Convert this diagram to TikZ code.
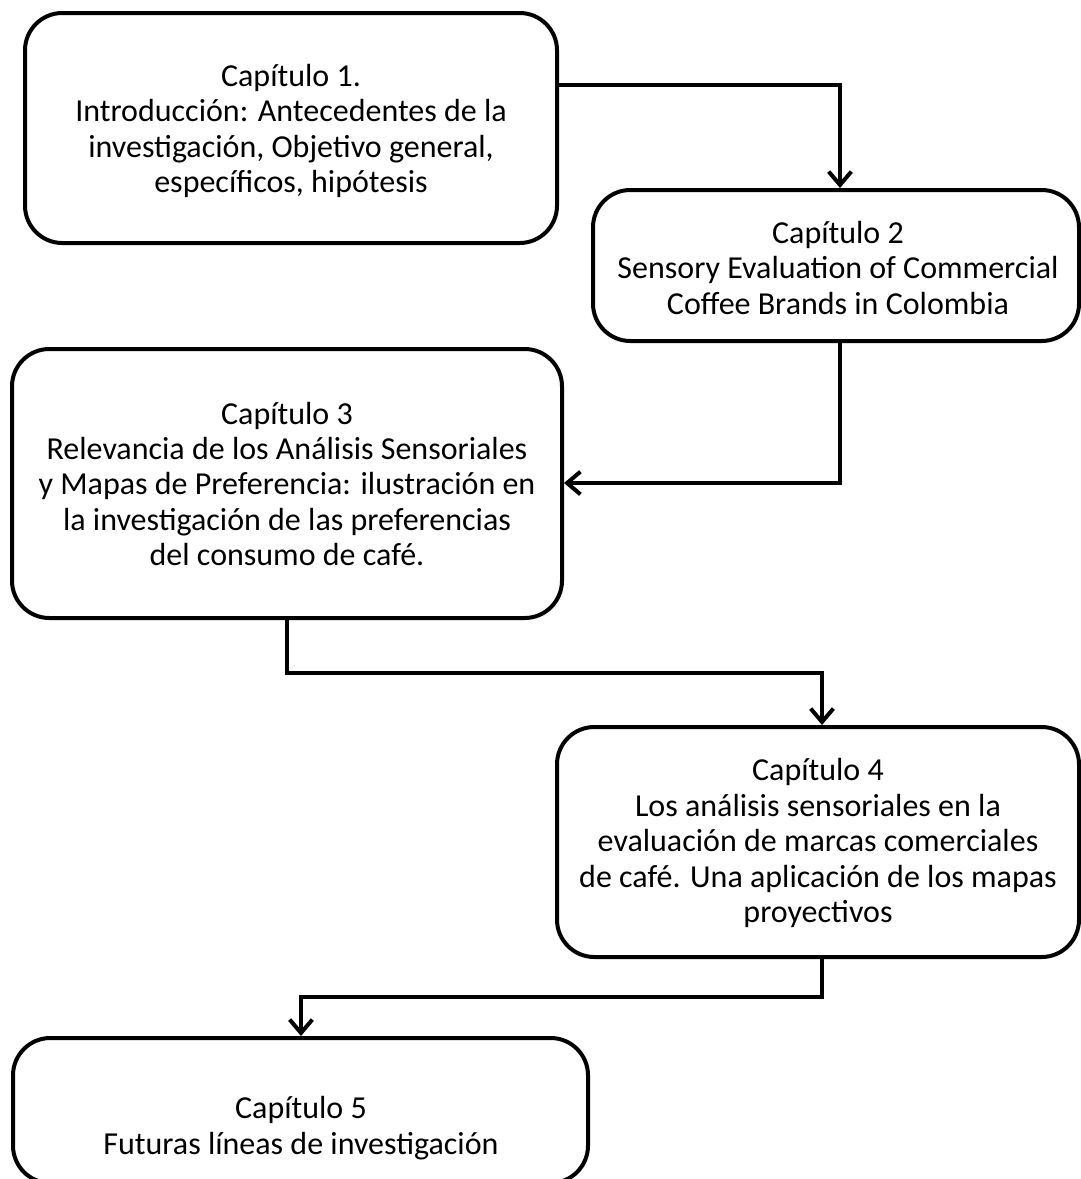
\documentclass[tikz,border=0pt]{standalone}
\usepackage{fontspec}
\setmainfont{Carlito}
\usetikzlibrary{fit,arrows.meta}
\begin{document}
\begin{tikzpicture}[x=0.75pt,y=-0.75pt,
  box/.style={draw=black,line width=3pt,rounded corners=28pt,inner sep=0pt},
  txt/.style={align=center,font=\fontsize{24}{26.6}\selectfont,inner sep=0pt},
  flow/.style={draw=black,line width=3pt,-{Straight Barb[length=10pt,width=17pt,line width=3pt]}}]
\useasboundingbox (0,0) rectangle (1081,1179);
% chapter boxes
\node[box,fit={(25,13) (557,243)}] (b1) {};
\node[box,fit={(593,190) (1079,341)}] (b2) {};
\node[box,fit={(12,349) (562,618)}] (b3) {};
\node[box,fit={(557,727) (1079,957)}] (b4) {};
\node[box,fit={(13,1038) (588,1183)}] (b5) {};
% texts
\node[txt] (t1) at (291,131) {Capítulo 1.\\Introducción: Antecedentes de la\\investigación, Objetivo general,\\específicos, hipótesis};
\node[txt] (t2) at (838,268) {Capítulo 2\\Sensory Evaluation of Commercial\\Coffee Brands in Colombia};
\node[txt] (t3) at (287,484) {Capítulo 3\\Relevancia de los Análisis Sensoriales\\y Mapas de Preferencia: ilustración en\\la investigación de las preferencias\\del consumo de café.};
\node[txt] (t4) at (818,843) {Capítulo 4\\Los análisis sensoriales en la\\evaluación de marcas comerciales\\de café. Una aplicación de los mapas\\proyectivos};
\node[txt] (t5) at (301,1128) {Capítulo 5\\Futuras líneas de investigación};
% connectors
\coordinate (k1) at (840,85);
\coordinate (k2) at (840,483);
\coordinate (k3a) at (287,673);
\coordinate (k3b) at (822,673);
\coordinate (k4a) at (822,997);
\coordinate (k4b) at (301,997);
\draw[flow] (b1.east |- k1) -- (k1) -- (k1 |- b2.north);
\draw[flow] (k1 |- b2.south) -- (k2) -- (k2 -| b3.east);
\draw[flow] (k3a |- b3.south) -- (k3a) -- (k3b) -- (k3b |- b4.north);
\draw[flow] (k4a |- b4.south) -- (k4a) -- (k4b) -- (k4b |- b5.north);
\end{tikzpicture}
\end{document}
